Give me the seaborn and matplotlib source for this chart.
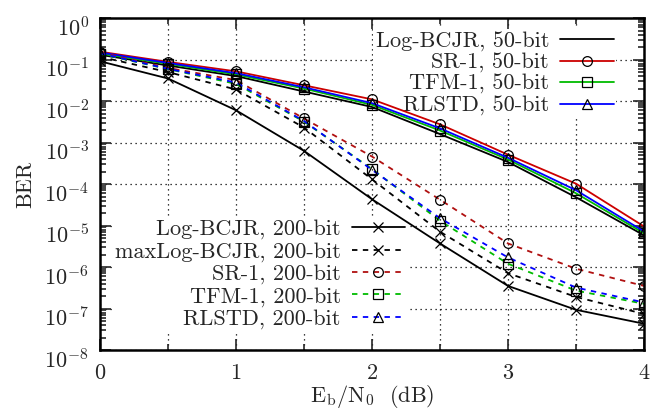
import matplotlib
matplotlib.use("Agg")
import matplotlib.pyplot as plt
import matplotlib.ticker as mticker
import matplotlib.transforms as mtransforms
import seaborn as sns

# Eb/N0 (dB)
snr = [0, 0.5, 1, 1.5, 2, 2.5, 3, 3.5, 4]

# 50-bit frames
log_bcjr_50 = [1.3e-1, 7.2e-2, 4.0e-2, 1.7e-2, 7.2e-3, 1.6e-3, 3.4e-4, 4.8e-5, 5.8e-6]
sr1_50 = [1.55e-1, 8.8e-2, 5.2e-2, 2.4e-2, 1.1e-2, 2.75e-3, 5.1e-4, 1.02e-4, 9.5e-6]
tfm1_50 = [1.4e-1, 7.9e-2, 4.4e-2, 2.0e-2, 8.1e-3, 1.95e-3, 3.9e-4, 6.0e-5, 6.5e-6]
rlstd_50 = [1.48e-1, 8.3e-2, 4.7e-2, 2.15e-2, 8.9e-3, 2.2e-3, 4.3e-4, 7.1e-5, 7.2e-6]

# 200-bit frames
log_bcjr_200 = [9.1e-2, 3.5e-2, 6.0e-3, 6.3e-4, 4.3e-5, 3.7e-6, 3.5e-7, 9.3e-8, 4.3e-8]
maxlog_200 = [1.17e-1, 5.0e-2, 1.9e-2, 2.3e-3, 1.3e-4, 7.1e-6, 7.1e-7, 1.9e-7, 7.4e-8]
sr1_200 = [1.48e-1, 6.3e-2, 3.2e-2, 3.8e-3, 4.6e-4, 4.2e-5, 3.7e-6, 9.1e-7, 3.5e-7]
tfm1_200 = [1.38e-1, 5.9e-2, 2.6e-2, 3.2e-3, 2.3e-4, 1.3e-5, 1.2e-6, 2.7e-7, 1.3e-7]
rlstd_200 = [1.41e-1, 6.0e-2, 2.8e-2, 3.3e-3, 2.2e-4, 1.5e-5, 1.7e-6, 3.2e-7, 1.4e-7]

# y-axis decades
ber_ticks = [1e-8, 1e-7, 1e-6, 1e-5, 1e-4, 1e-3, 1e-2, 1e-1, 1e0]

sns.set_style("ticks")
plt.rcParams['font.family'] = ['cmr10', 'DejaVu Serif']
plt.rcParams['mathtext.fontset'] = 'cm'
plt.rcParams['axes.formatter.use_mathtext'] = True
plt.rcParams['font.size'] = 16

fig, ax = plt.subplots(figsize=(6.6, 4.11), dpi=100)
fig.subplots_adjust(left=0.1515, right=0.9758, top=0.956, bottom=0.1484)

series_50 = [
    ('Log-BCJR, 50-bit', log_bcjr_50, 'black', None),
    ('SR-1, 50-bit', sr1_50, '#cc0000', 'o'),
    ('TFM-1, 50-bit', tfm1_50, '#00bb00', 's'),
    ('RLSTD, 50-bit', rlstd_50, '#0000ff', '^'),
]
series_200 = [
    ('Log-BCJR, 200-bit', log_bcjr_200, 'black', 'x', '-'),
    ('maxLog-BCJR, 200-bit', maxlog_200, 'black', 'x', '--'),
    ('SR-1, 200-bit', sr1_200, '#b01010', 'o', '--'),
    ('TFM-1, 200-bit', tfm1_200, '#00bb00', 's', '--'),
    ('RLSTD, 200-bit', rlstd_200, '#0000ff', '^', '--'),
]

lines_50 = []
for name, vals, col, mk in series_50:
    sns.lineplot(x=snr, y=vals, ax=ax, color=col, lw=1.3, marker=mk,
                 ms=7, mfc='none', mec='black', mew=0.9, label=name)
    lines_50.append(ax.lines[-1])

lines_200 = []
for name, vals, col, mk, ls in series_200:
    sns.lineplot(x=snr, y=vals, ax=ax, color=col, lw=1.3, marker=mk,
                 ms=7, mfc='none', mec='black', mew=0.9, label=name)
    ln = ax.lines[-1]
    if ls == '--':
        ln.set_dashes((3, 3))
    lines_200.append(ln)

ax.set_yscale('log')
ax.set_xlim(0, 4)
ax.set_ylim(1e-8, 1)
ax.yaxis.set_major_locator(mticker.FixedLocator(ber_ticks))
ax.yaxis.set_major_formatter(mticker.LogFormatterSciNotation())
ax.yaxis.set_minor_locator(mticker.LogLocator(base=10, subs=range(2, 10), numticks=20))
ax.yaxis.set_minor_formatter(mticker.NullFormatter())
ax.xaxis.set_major_locator(mticker.MultipleLocator(1))
ax.xaxis.set_minor_locator(mticker.MultipleLocator(0.5))

ax.grid(True, which='major', color='black', linestyle=(0, (1, 3)), lw=0.9)
ax.grid(True, which='minor', axis='x', color='black', linestyle=(0, (1, 3)), lw=0.9)

ax.tick_params(which='both', direction='in', top=True, right=True, width=1.2)
ax.tick_params(which='major', length=8)
ax.tick_params(which='minor', length=4)
ax.tick_params(axis='x', which='major', pad=10)
ax.tick_params(axis='y', which='major', pad=8)
for sp in ax.spines.values():
    sp.set_linewidth(1.8)
    sp.set_color('black')

ax.set_xlabel(r'$\mathrm{E_b/N_0}$  (dB)', labelpad=0)
ax.set_ylabel('BER', labelpad=6)

leg_kw = dict(markerfirst=False, frameon=True, framealpha=1, edgecolor='none',
              fancybox=False, handlelength=2.4, handletextpad=0.5,
              borderpad=0.1, borderaxespad=0, fontsize=16)
leg1 = ax.legend(handles=lines_50, labels=[s[0] for s in series_50],
                 loc='upper right', bbox_to_anchor=(0.948, 0.966),
                 labelspacing=0.06, **leg_kw)
leg1.set_zorder(1.5)
ax.add_artist(leg1)
leg2 = ax.legend(handles=lines_200, labels=[s[0] for s in series_200],
                 loc='upper right', bbox_to_anchor=(0.565, 0.40),
                 labelspacing=0.11, **leg_kw)
leg2.set_zorder(1.5)

# decade labels sit a little below their ticks, as in the original
fig.canvas.draw()
shift = mtransforms.ScaledTranslation(0, -8 / 100, fig.dpi_scale_trans)
for lbl in ax.get_yticklabels():
    lbl.set_transform(lbl.get_transform() + shift)

fig.savefig('out.png', dpi=100)
